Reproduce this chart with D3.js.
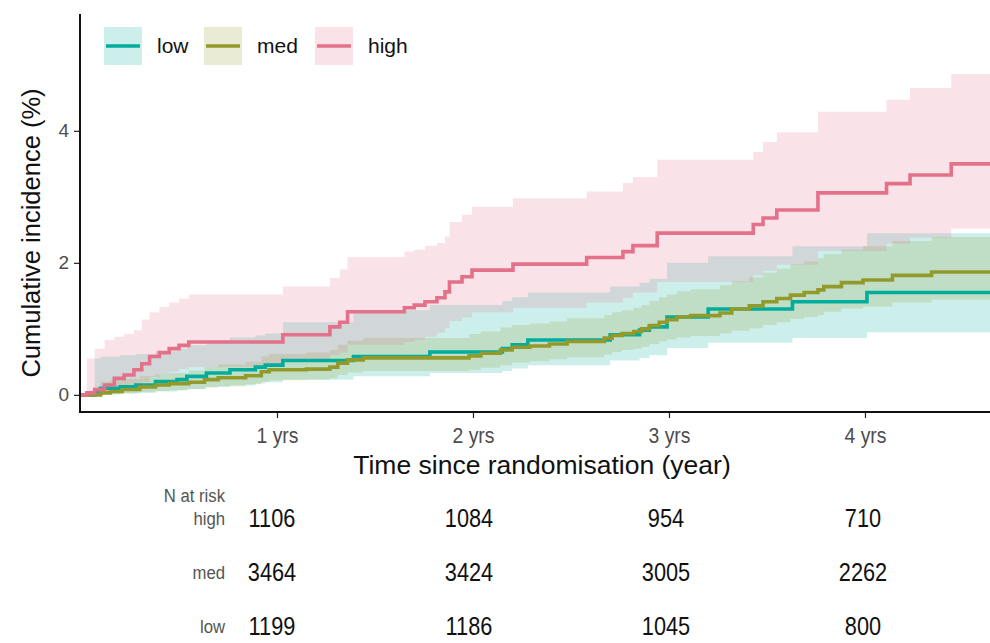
<!DOCTYPE html>
<html><head><meta charset="utf-8">
<script src="https://cdn.jsdelivr.net/npm/d3@7"></script>
<style>
html,body{margin:0;padding:0;background:#fff;}
svg{display:block;font-family:"Liberation Sans",Arial,Helvetica,sans-serif;}
</style></head>
<body><svg id="chart" width="990" height="643"></svg>
<script>
// ---------------- data ----------------
const groups = ["low", "med", "high"];
const groupColors = ["#00ad9c", "#939a2c", "#e4718a"];

// high
const timeHigh = [0, .03, .07, .12, .17, .22, .27, .31, .35, .40, .45, .50, .55, 1.03, 1.27, 1.32, 1.36, 1.65, 1.70, 1.755, 1.816, 1.857, 1.88, 1.944, 1.995, 2.204, 2.58, 2.765, 2.816, 2.94, 3.43, 3.48, 3.55, 3.76, 4.11, 4.23, 4.44, 4.70];
const estHigh = [0, .03, .08, .15, .25, .30, .38, .47, .58, .64, .70, .75, .80, .91, 1.03, 1.10, 1.26, 1.32, 1.36, 1.41, 1.47, 1.56, 1.71, 1.79, 1.89, 1.98, 2.08, 2.17, 2.26, 2.45, 2.58, 2.68, 2.80, 3.06, 3.20, 3.33, 3.50, 3.50];
const upperHigh = [0, .55, .70, .83, .88, .92, .98, 1.14, 1.25, 1.33, 1.40, 1.46, 1.52, 1.64, 1.77, 1.90, 2.09, 2.17, 2.20, 2.26, 2.30, 2.40, 2.62, 2.73, 2.85, 2.98, 3.08, 3.21, 3.30, 3.56, 3.68, 3.83, 3.98, 4.29, 4.47, 4.65, 4.86, 4.86];
const lowerHigh = [0, 0, .01, .03, .07, .10, .15, .19, .27, .31, .35, .39, .42, .50, .60, .64, .76, .80, .83, .88, .94, 1.01, 1.12, 1.17, 1.25, 1.32, 1.40, 1.47, 1.55, 1.71, 1.81, 1.88, 1.97, 2.18, 2.29, 2.38, 2.52, 2.52];

// low
const timeLow = [0, .07, .10, .20, .28, .38, .49, .54, .64, .76, .89, .94, 1.03, 1.39, 1.78, 2.15, 2.20, 2.28, 2.70, 2.85, 2.90, 2.99, 3.20, 3.63, 4.01, 4.70];
const estLow = [0, .05, .10, .12, .15, .20, .23, .28, .33, .38, .42, .45, .52, .58, .65, .70, .76, .83, .91, .98, 1.03, 1.18, 1.30, 1.41, 1.55, 1.55];
const upperLow = [0, .55, .58, .60, .62, .66, .70, .75, .82, .87, .90, .93, 1.10, 1.28, 1.36, 1.42, 1.48, 1.55, 1.64, 1.70, 1.76, 2.00, 2.10, 2.25, 2.45, 2.45];
const lowerLow = [0, 0, .01, .02, .03, .05, .07, .09, .12, .14, .17, .19, .23, .28, .33, .36, .40, .45, .52, .56, .60, .71, .79, .86, .95, .95];

// med
const timeMed = [0, .10, .15, .21, .30, .38, .45, .55, .63, .70, .84, .92, .96, 1.15, 1.27, 1.31, 1.36, 1.44, 1.98, 2.04, 2.14, 2.20, 2.29, 2.39, 2.48, 2.67, 2.71, 2.76, 2.82, 2.86, 2.90, 2.95, 2.99, 3.04, 3.11, 3.26, 3.32, 3.41, 3.48, 3.55, 3.62, 3.69, 3.76, 3.79, 3.88, 3.99, 4.14, 4.34, 4.70];
const estMed = [0, .03, .05, .08, .12, .15, .17, .19, .23, .26, .29, .35, .38, .39, .42, .48, .53, .56, .59, .63, .68, .72, .74, .77, .81, .86, .90, .93, .96, 1.00, 1.05, 1.10, 1.14, 1.18, 1.20, 1.24, 1.30, 1.35, 1.41, 1.46, 1.51, 1.55, 1.59, 1.64, 1.70, 1.74, 1.81, 1.86, 1.86];
const lowerMed = [0, 0, .01, .02, .04, .06, .07, .09, .11, .13, .16, .20, .22, .23, .25, .30, .34, .36, .38, .41, .45, .49, .51, .54, .57, .61, .65, .68, .70, .73, .77, .81, .84, .87, .89, .93, .97, 1.01, 1.06, 1.10, 1.15, 1.18, 1.21, 1.26, 1.31, 1.34, 1.40, 1.44, 1.44];
const upperMed = [0, .20, .22, .24, .28, .31, .33, .37, .42, .46, .50, .58, .62, .64, .68, .76, .82, .86, .92, .96, 1.02, 1.06, 1.08, 1.11, 1.16, 1.21, 1.25, 1.28, 1.32, 1.36, 1.42, 1.48, 1.52, 1.57, 1.60, 1.66, 1.72, 1.78, 1.85, 1.91, 1.98, 2.02, 2.07, 2.13, 2.20, 2.25, 2.33, 2.39, 2.39];

const yTicks = [0, 2, 4];
const xTicks = [1, 2, 3, 4];
const xTickLabels = ["1 yrs", "2 yrs", "3 yrs", "4 yrs"];

const riskRows = ["high", "med", "low"];
const riskHigh = [1106, 1084, 954, 710];
const riskMed = [3464, 3424, 3005, 2262];
const riskLow = [1199, 1186, 1045, 800];

// ---------------- layout ----------------
const svg = d3.select("#chart");
const plot = {left: 80, right: 990, top: 14, bottom: 412};
const x = d3.scaleLinear().domain([0, 4.643]).range([81, 991]);
const y = d3.scaleLinear().domain([-0.26, 5.77]).range([plot.bottom, plot.top]);

const series = [
  {name: "low", t: timeLow, est: estLow, lo: lowerLow, hi: upperLow, color: groupColors[0]},
  {name: "med", t: timeMed, est: estMed, lo: lowerMed, hi: upperMed, color: groupColors[1]},
  {name: "high", t: timeHigh, est: estHigh, lo: lowerHigh, hi: upperHigh, color: groupColors[2]}
];

svg.append("clipPath").attr("id", "clip").append("rect")
  .attr("x", plot.left).attr("y", plot.top).attr("width", plot.right - plot.left).attr("height", plot.bottom - plot.top);

const g = svg.append("g").attr("clip-path", "url(#clip)");

const area = d3.area().curve(d3.curveStepAfter)
  .x(d => x(d.t)).y0(d => y(d.lo)).y1(d => y(d.hi));
const line = d3.line().curve(d3.curveStepAfter)
  .x(d => x(d.t)).y(d => y(d.est));

series.forEach(s => {
  const pts = s.t.map((t, i) => ({t, est: s.est[i], lo: s.lo[i], hi: s.hi[i]}));
  s.pts = pts;
  g.append("path").datum(pts).attr("d", area)
    .attr("fill", s.color).attr("fill-opacity", 0.2).attr("stroke", "none");
});
series.forEach(s => {
  g.append("path").datum(s.pts).attr("d", line)
    .attr("fill", "none").attr("stroke", s.color).attr("stroke-width", 3.6)
    .attr("stroke-linejoin", "miter");
});

// axes
const yAxis = d3.axisLeft(y).tickValues(yTicks).tickSize(6).tickPadding(5).tickFormat(d3.format("d"));
const yg = svg.append("g").attr("transform", `translate(${plot.left},0)`).call(yAxis);
yg.select(".domain").remove();
yg.selectAll(".tick line").attr("stroke", "#222").attr("stroke-width", 1.2);
yg.selectAll(".tick text").attr("fill", "#4d4d4d").style("font-size", "19px")
  .style("font-family", "'Liberation Sans', Arial, sans-serif");

const xAxis = d3.axisBottom(x).tickValues(xTicks).tickSize(6).tickPadding(9)
  .tickFormat((d, i) => xTickLabels[i]);
const xg = svg.append("g").attr("transform", `translate(0,${plot.bottom})`).call(xAxis);
xg.select(".domain").remove();
xg.selectAll(".tick line").attr("stroke", "#222").attr("stroke-width", 1.2);
xg.selectAll(".tick text").attr("fill", "#4d4d4d").style("font-size", "22px")
  .attr("transform", "scale(0.88,1)")
  .style("font-family", "'Liberation Sans', Arial, sans-serif");

svg.append("line").attr("x1", plot.left).attr("x2", plot.left).attr("y1", plot.top).attr("y2", plot.bottom + 1)
  .attr("stroke", "#111").attr("stroke-width", 2);
svg.append("line").attr("x1", plot.left - 1).attr("x2", plot.right).attr("y1", plot.bottom).attr("y2", plot.bottom)
  .attr("stroke", "#111").attr("stroke-width", 2);

// axis titles
svg.append("text").attr("x", 542).attr("y", 474).attr("text-anchor", "middle")
  .style("font-size", "26.5px").attr("fill", "#111").text("Time since randomisation (year)");
svg.append("text").attr("transform", "translate(40,233) rotate(-90)").attr("text-anchor", "middle")
  .style("font-size", "25.5px").attr("fill", "#111").text("Cumulative incidence (%)");

// legend
groups.forEach((gname, i) => {
  const lx = [104, 204, 315][i];
  const lg = svg.append("g").attr("transform", `translate(${lx},27)`);
  lg.append("rect").attr("width", 38).attr("height", 38).attr("fill", groupColors[i]).attr("fill-opacity", 0.2);
  lg.append("line").attr("x1", 2).attr("x2", 36).attr("y1", 19).attr("y2", 19)
    .attr("stroke", groupColors[i]).attr("stroke-width", 3.6);
  lg.append("text").attr("x", 53).attr("y", 19).attr("dy", "0.35em")
    .style("font-size", "21px").attr("fill", "#111").text(gname);
});

// risk table
const riskX = d3.scalePoint().domain(d3.range(riskHigh.length)).range([272, 863]);
const riskY = d3.scalePoint().domain(riskRows).range([518, 626]);
const riskData = {high: riskHigh, med: riskMed, low: riskLow};
function condensed(px, py, txt, size, sx, anchor, fill) {
  svg.append("text").attr("transform", `translate(${px},${py}) scale(${sx},1)`)
    .attr("dy", "0.35em").attr("text-anchor", anchor)
    .style("font-size", size + "px").attr("fill", fill).text(txt);
}
condensed(225, 495, "N at risk", 19, 0.88, "end", "#555");
riskRows.forEach(r => {
  condensed(225, riskY(r), r, 19, 0.88, "end", "#555");
  riskData[r].forEach((v, i) => {
    condensed(riskX(i), riskY(r), v, 25, 0.87, "middle", "#111");
  });
});
</script></body></html>
